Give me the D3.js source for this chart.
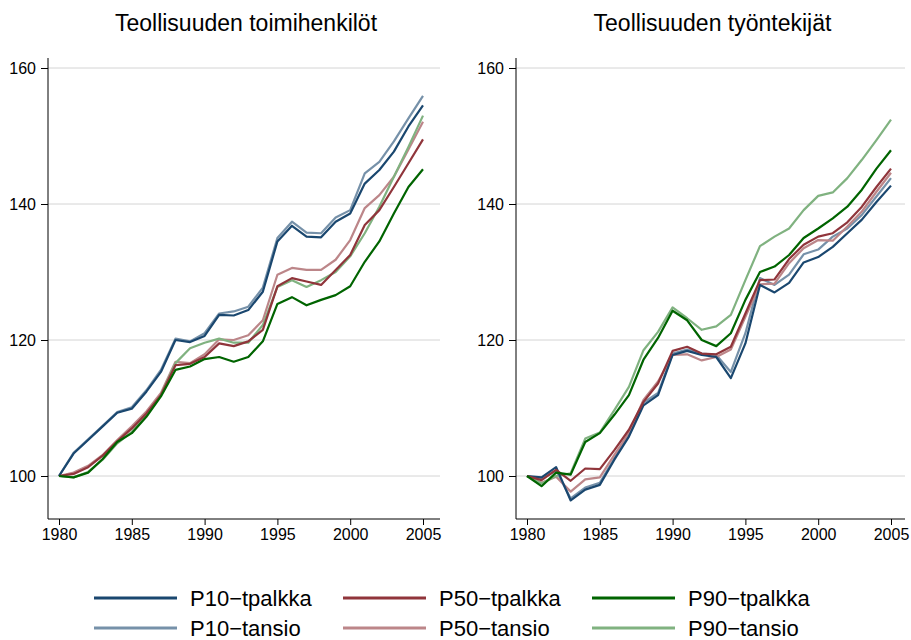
<!DOCTYPE html>
<html><head><meta charset="utf-8">
<script src="https://cdn.jsdelivr.net/npm/d3@7"></script>
<style>
body{margin:0;background:#fff;}
svg{display:block;font-family:"Liberation Sans",Arial,Helvetica,sans-serif;}
</style></head>
<body>
<svg id="chart" width="911" height="640"></svg>
<script>
const years = d3.range(1980, 2006);
const panelTitles = ["Teollisuuden toimihenkilöt", "Teollisuuden työntekijät"];
const yTicks = [100, 120, 140, 160];
const xTicks = [1980, 1985, 1990, 1995, 2000, 2005];
const seriesNames = ["P10−tpalkka", "P50−tpalkka", "P90−tpalkka", "P10−tansio", "P50−tansio", "P90−tansio"];
const seriesColors = ["#1a476f", "#90353b", "#006400", "#7691a9", "#bc8689", "#80b280"];

// Panel 1: Teollisuuden toimihenkilöt
const left_P10_tpalkka = [100,103.3,105.3,107.3,109.3,109.9,112.4,115.3,120,119.7,120.6,123.7,123.6,124.4,127.1,134.5,136.8,135.2,135.1,137.4,138.6,143,145,147.7,151.4,154.5];
const left_P10_tansio  = [100,103.4,105.4,107.4,109.4,110.1,112.6,115.6,120.2,119.8,121,123.9,124.2,124.9,127.7,135,137.4,135.8,135.7,138,139.1,144.5,146.2,149.2,152.6,155.9];
const left_P50_tpalkka = [100,100.3,101.3,103,105.1,107,109.2,111.9,116.3,116.5,117.5,119.5,119.1,119.8,121.5,127.9,129.1,128.6,128.1,130.3,132.5,136.9,139.1,142.5,146,149.5];
const left_P50_tansio  = [100,100.5,101.5,103.1,105.3,107.3,109.5,112.2,116.8,116.6,117.9,120.1,120,120.7,122.9,129.6,130.6,130.3,130.3,131.8,134.7,139.4,141.3,144,148,152.1];
const left_P90_tpalkka = [100,99.8,100.5,102.5,105,106.3,108.7,111.7,115.6,116.1,117.2,117.5,116.8,117.5,119.8,125.3,126.3,125.1,125.9,126.6,127.9,131.5,134.5,138.6,142.5,145.1];
const left_P90_tansio  = [100,99.8,100.6,102.4,104.8,106.5,109,111.9,116.6,118.8,119.6,120.2,119.6,119.6,122.2,127.8,128.8,127.8,128.8,130,132.3,135.7,139.6,144,148.4,153];

// Panel 2: Teollisuuden työntekijät
const right_P10_tpalkka = [100,99.8,101.3,96.4,98,98.7,102.4,105.8,110.4,111.9,117.8,118.4,117.8,117.5,114.4,119.5,128.1,127,128.4,131.4,132.2,133.7,135.7,137.7,140.3,142.7];
const right_P10_tansio  = [100,99.6,100.8,96.7,98.3,99,102.6,106,110.8,112.2,118,118.6,118,117.8,115.3,121,129.1,128.1,129.6,132.6,133.3,135.2,136.4,138.4,141.1,143.8];
const right_P50_tpalkka = [100,99.4,100.9,99.3,101.1,101,103.8,106.8,110.9,113.6,118.4,119,118,117.9,119,123.9,128.8,128.9,131.9,134,135.2,135.7,137.3,139.6,142.5,145.2];
const right_P50_tansio  = [100,99,99.9,97.7,99.5,99.8,103.1,106.3,111.2,113.9,117.8,117.9,117,117.5,118.6,123.4,128.2,128.3,131.3,133.5,134.7,134.6,136.7,138.9,141.8,144.6];
const right_P90_tpalkka = [100,98.5,100.5,100.2,105,106.3,109,111.9,117.1,120.3,124.3,122.9,120,119.1,121,125.9,130,130.8,132.5,135,136.4,137.9,139.6,142.1,145.2,147.9];
const right_P90_tansio  = [100,98.9,100,100.4,105.5,106.4,109.7,113.1,118.5,121.2,124.8,123.2,121.5,122,123.7,128.8,133.8,135.2,136.4,139.1,141.2,141.7,143.8,146.5,149.4,152.4];

const panels = [
  {title: panelTitles[0], x0: 48, x1: 440, series: [left_P10_tansio, left_P50_tansio, left_P90_tansio, left_P10_tpalkka, left_P50_tpalkka, left_P90_tpalkka]},
  {title: panelTitles[1], x0: 516, x1: 905, series: [right_P10_tansio, right_P50_tansio, right_P90_tansio, right_P10_tpalkka, right_P50_tpalkka, right_P90_tpalkka]}
];
const drawColors = [seriesColors[3], seriesColors[4], seriesColors[5], seriesColors[0], seriesColors[1], seriesColors[2]];

const svg = d3.select("#chart");
const y = d3.scaleLinear().domain([100, 160]).range([476, 68]);
const yTop = 58, yBot = 519;

panels.forEach(p => {
  const x = d3.scaleLinear().domain([1980, 2005]).range([p.x0 + 11, p.x0 + 375]);
  const g = svg.append("g");
  g.selectAll("line.grid").data(yTicks).join("line")
    .attr("x1", p.x0).attr("x2", p.x1)
    .attr("y1", d => y(d)).attr("y2", d => y(d))
    .attr("stroke", "#d4d4d4").attr("stroke-width", 1);
  const line = d3.line().x((d, i) => x(years[i])).y(d => y(d));
  p.series.forEach((s, k) => {
    g.append("path").datum(s).attr("d", line)
      .attr("fill", "none").attr("stroke", drawColors[k])
      .attr("stroke-width", 2.2).attr("stroke-linejoin", "round");
  });
  const ya = g.append("g").attr("transform", `translate(${p.x0},0)`)
    .call(d3.axisLeft(y).tickValues(yTicks).tickSize(7).tickPadding(5));
  ya.select(".domain").attr("d", `M0,${yTop}V${yBot}`).attr("stroke", "#000");
  ya.selectAll("text").attr("font-size", 16).attr("fill", "#000").attr("font-family", "Liberation Sans, Arial, sans-serif");
  const xa = g.append("g").attr("transform", `translate(0,${yBot})`)
    .call(d3.axisBottom(x).tickValues(xTicks).tickFormat(d3.format("d")).tickSize(6).tickPadding(4));
  xa.select(".domain").attr("d", `M${p.x0},0H${p.x1}`).attr("stroke", "#000");
  xa.selectAll("text").attr("font-size", 16).attr("fill", "#000").attr("font-family", "Liberation Sans, Arial, sans-serif");
  g.append("text").attr("x", (p.x0 + p.x1) / 2 + 2).attr("y", 31)
    .attr("text-anchor", "middle").attr("font-size", 23).attr("fill", "#000")
    .text(p.title);
});

const legX = [94, 343, 592];
const legY = [598, 628];
seriesNames.forEach((name, i) => {
  const col = i % 3, row = Math.floor(i / 3);
  const lg = svg.append("g").attr("transform", `translate(${legX[col]},${legY[row]})`);
  lg.append("line").attr("x1", 0).attr("x2", 83).attr("y1", 0).attr("y2", 0)
    .attr("stroke", seriesColors[i]).attr("stroke-width", 3);
  lg.append("text").attr("x", 96).attr("y", 8).attr("font-size", 22).attr("fill", "#000").text(name);
});
</script>
</body></html>
